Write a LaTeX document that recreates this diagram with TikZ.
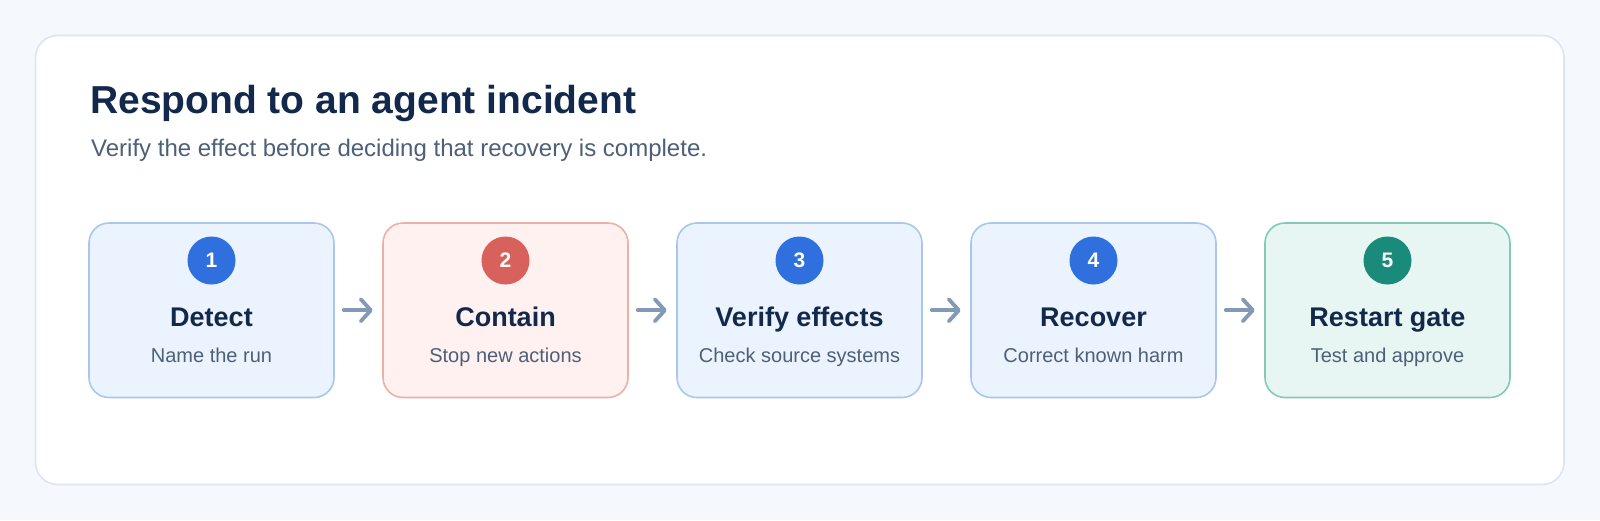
\documentclass[tikz,border=0pt]{standalone}
\usepackage{fontspec}
\setmainfont{Liberation Sans}
\usetikzlibrary{arrows.meta}
\definecolor{pagebg}{HTML}{F5F9FE}
\definecolor{cardline}{HTML}{DCE6F2}
\definecolor{titlecol}{HTML}{13294B}
\definecolor{subcol}{HTML}{4E5F78}
\definecolor{bluefill}{HTML}{EBF3FE}
\definecolor{blueline}{HTML}{A9C6EC}
\definecolor{bluedot}{HTML}{2F6FDE}
\definecolor{redfill}{HTML}{FEF1EF}
\definecolor{redline}{HTML}{EBB1A7}
\definecolor{reddot}{HTML}{D9615B}
\definecolor{greenfill}{HTML}{E7F6F2}
\definecolor{greenline}{HTML}{82C9B8}
\definecolor{greendot}{HTML}{1A8A7B}
\definecolor{arrowcol}{HTML}{8299B7}
\tikzset{
  stepbox/.style={draw, line width=1.6pt, rounded corners=20pt,
    minimum width=245pt, minimum height=174.5pt, inner sep=0pt},
  bluebox/.style={stepbox, fill=bluefill, draw=blueline},
  redbox/.style={stepbox, fill=redfill, draw=redline},
  greenbox/.style={stepbox, fill=greenfill, draw=greenline},
  numdot/.style={circle, minimum size=48pt, inner sep=0pt, text=white,
    font=\fontsize{21}{25}\selectfont\bfseries},
  steptitle/.style={anchor=base, inner sep=0pt, text=titlecol,
    font=\fontsize{27}{32}\selectfont\bfseries},
  stepsub/.style={anchor=base, inner sep=0pt, text=subcol,
    font=\fontsize{20}{24}\selectfont},
  flowarrow/.style={draw=arrowcol, line width=3.8pt, line cap=round,
    -{Straight Barb[length=10pt,width=22pt,line cap=round,line join=round]},
    shorten <=9pt, shorten >=9.5pt}
}
\begin{document}
\begin{tikzpicture}[x=1pt,y=-1pt]
\useasboundingbox (0,0) rectangle (1600,520);
\fill[pagebg] (0,0) rectangle (1600,520);
\path[draw=cardline, fill=white, line width=1.6pt, rounded corners=22pt]
  (35.5,35.5) rectangle (1564,484.5);

\node[anchor=base west, inner sep=0pt, text=titlecol,
  font=\fontsize{39}{46}\selectfont\bfseries] (title) at (90,113.3)
  {Respond to an agent incident};
\node[anchor=base west, inner sep=0pt, text=subcol,
  font=\fontsize{24}{29}\selectfont] (subtitle) at (91,156)
  {Verify the effect before deciding that recovery is complete.};

\node[bluebox]  (b1) at (211.5,310.25) {};
\node[redbox]   (b2) at (505.5,310.25) {};
\node[bluebox]  (b3) at (799.5,310.25) {};
\node[bluebox]  (b4) at (1093.5,310.25) {};
\node[greenbox] (b5) at (1387.5,310.25) {};

\node[numdot, fill=bluedot]  (n1) at (211.5,260.5) {1};
\node[numdot, fill=reddot]   (n2) at (505.5,260.5) {2};
\node[numdot, fill=bluedot]  (n3) at (799.5,260.5) {3};
\node[numdot, fill=bluedot]  (n4) at (1093.5,260.5) {4};
\node[numdot, fill=greendot] (n5) at (1387.5,260.5) {5};

\node[steptitle] (t1) at (211.5,326) {Detect};
\node[steptitle] (t2) at (505.5,326) {Contain};
\node[steptitle] (t3) at (799.5,326) {Verify effects};
\node[steptitle] (t4) at (1093.5,326) {Recover};
\node[steptitle] (t5) at (1387.5,326) {Restart gate};

\node[stepsub] (s1) at (211.5,362) {Name the run};
\node[stepsub] (s2) at (505.5,362) {Stop new actions};
\node[stepsub] (s3) at (799.5,362) {Check source systems};
\node[stepsub] (s4) at (1093.5,362) {Correct known harm};
\node[stepsub] (s5) at (1387.5,362) {Test and approve};

\draw[flowarrow] (b1.east) -- (b2.west);
\draw[flowarrow] (b2.east) -- (b3.west);
\draw[flowarrow] (b3.east) -- (b4.west);
\draw[flowarrow] (b4.east) -- (b5.west);
\end{tikzpicture}
\end{document}
